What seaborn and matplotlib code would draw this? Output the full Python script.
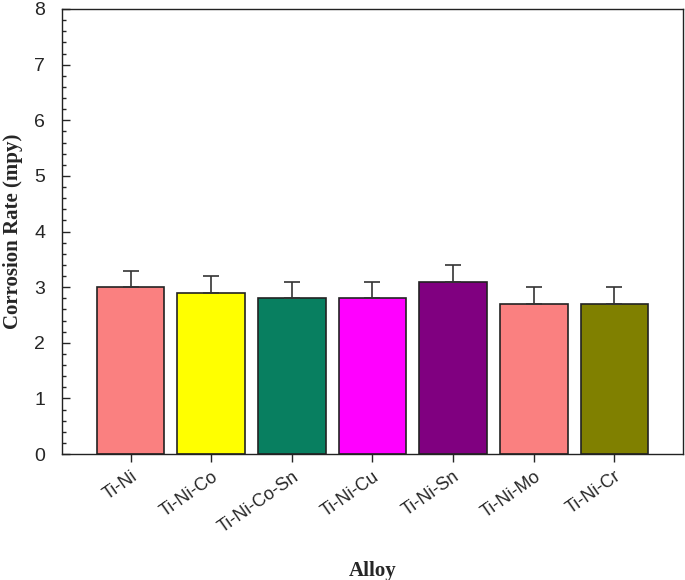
import numpy as np
import pandas as pd
import seaborn as sns
import matplotlib.pyplot as plt
from matplotlib.ticker import MultipleLocator

# Datos
alloys = ["Ti-Ni", "Ti-Ni-Co", "Ti-Ni-Co-Sn", "Ti-Ni-Cu", "Ti-Ni-Sn", "Ti-Ni-Mo", "Ti-Ni-Cr"]
rates = [3.0, 2.9, 2.8, 2.8, 3.1, 2.7, 2.7]
errors = [0.3, 0.3, 0.3, 0.3, 0.3, 0.3, 0.3]
colors = ["#FA8080", "#FFFF00", "#087F60", "#FF00FF", "#800080", "#FA8080", "#808000"]

df = pd.DataFrame({"Alloy": alloys, "Rate": rates})

sns.set_style("ticks")
fig = plt.figure(figsize=(6.85, 5.8), dpi=100)
ax = fig.add_axes([0.0905, 0.217, 0.9065, 0.7675])

sns.barplot(data=df, x="Alloy", y="Rate", hue="Alloy", palette=colors,
            saturation=1, width=0.84, edgecolor="#222222", linewidth=1.2,
            errorbar=None, legend=False, ax=ax)

# barras de error solo hacia arriba
ax.errorbar(np.arange(len(alloys)), rates, yerr=[np.zeros(len(errors)), errors],
            fmt="none", ecolor="#333333", elinewidth=1.2, capsize=6, capthick=1.2)

ax.set_xlim(-0.85, 6.85)
ax.set_ylim(0, 8)
ax.yaxis.set_major_locator(MultipleLocator(1))
ax.yaxis.set_minor_locator(MultipleLocator(0.2))

for s in ax.spines.values():
    s.set_visible(True)
    s.set_linewidth(1.0)
    s.set_color("#222222")

ax.tick_params(axis="y", which="major", direction="in", length=6, width=1,
               labelsize=14, pad=12)
ax.tick_params(axis="y", which="minor", direction="in", length=3, width=1)
ax.tick_params(axis="x", direction="out", length=6, width=1, labelsize=13, pad=4)
for lbl in ax.get_yticklabels() + ax.get_xticklabels():
    lbl.set_fontfamily("Liberation Sans")
plt.setp(ax.get_xticklabels(), rotation=35, ha="right", rotation_mode="anchor")

ax.set_xlabel("Alloy", fontfamily="Liberation Serif", fontweight="bold",
              fontsize=15, labelpad=18)
ax.set_ylabel("Corrosion Rate (mpy)", fontfamily="Liberation Serif",
              fontweight="bold", fontsize=15, labelpad=8)

fig.savefig("out.png", dpi=100)
